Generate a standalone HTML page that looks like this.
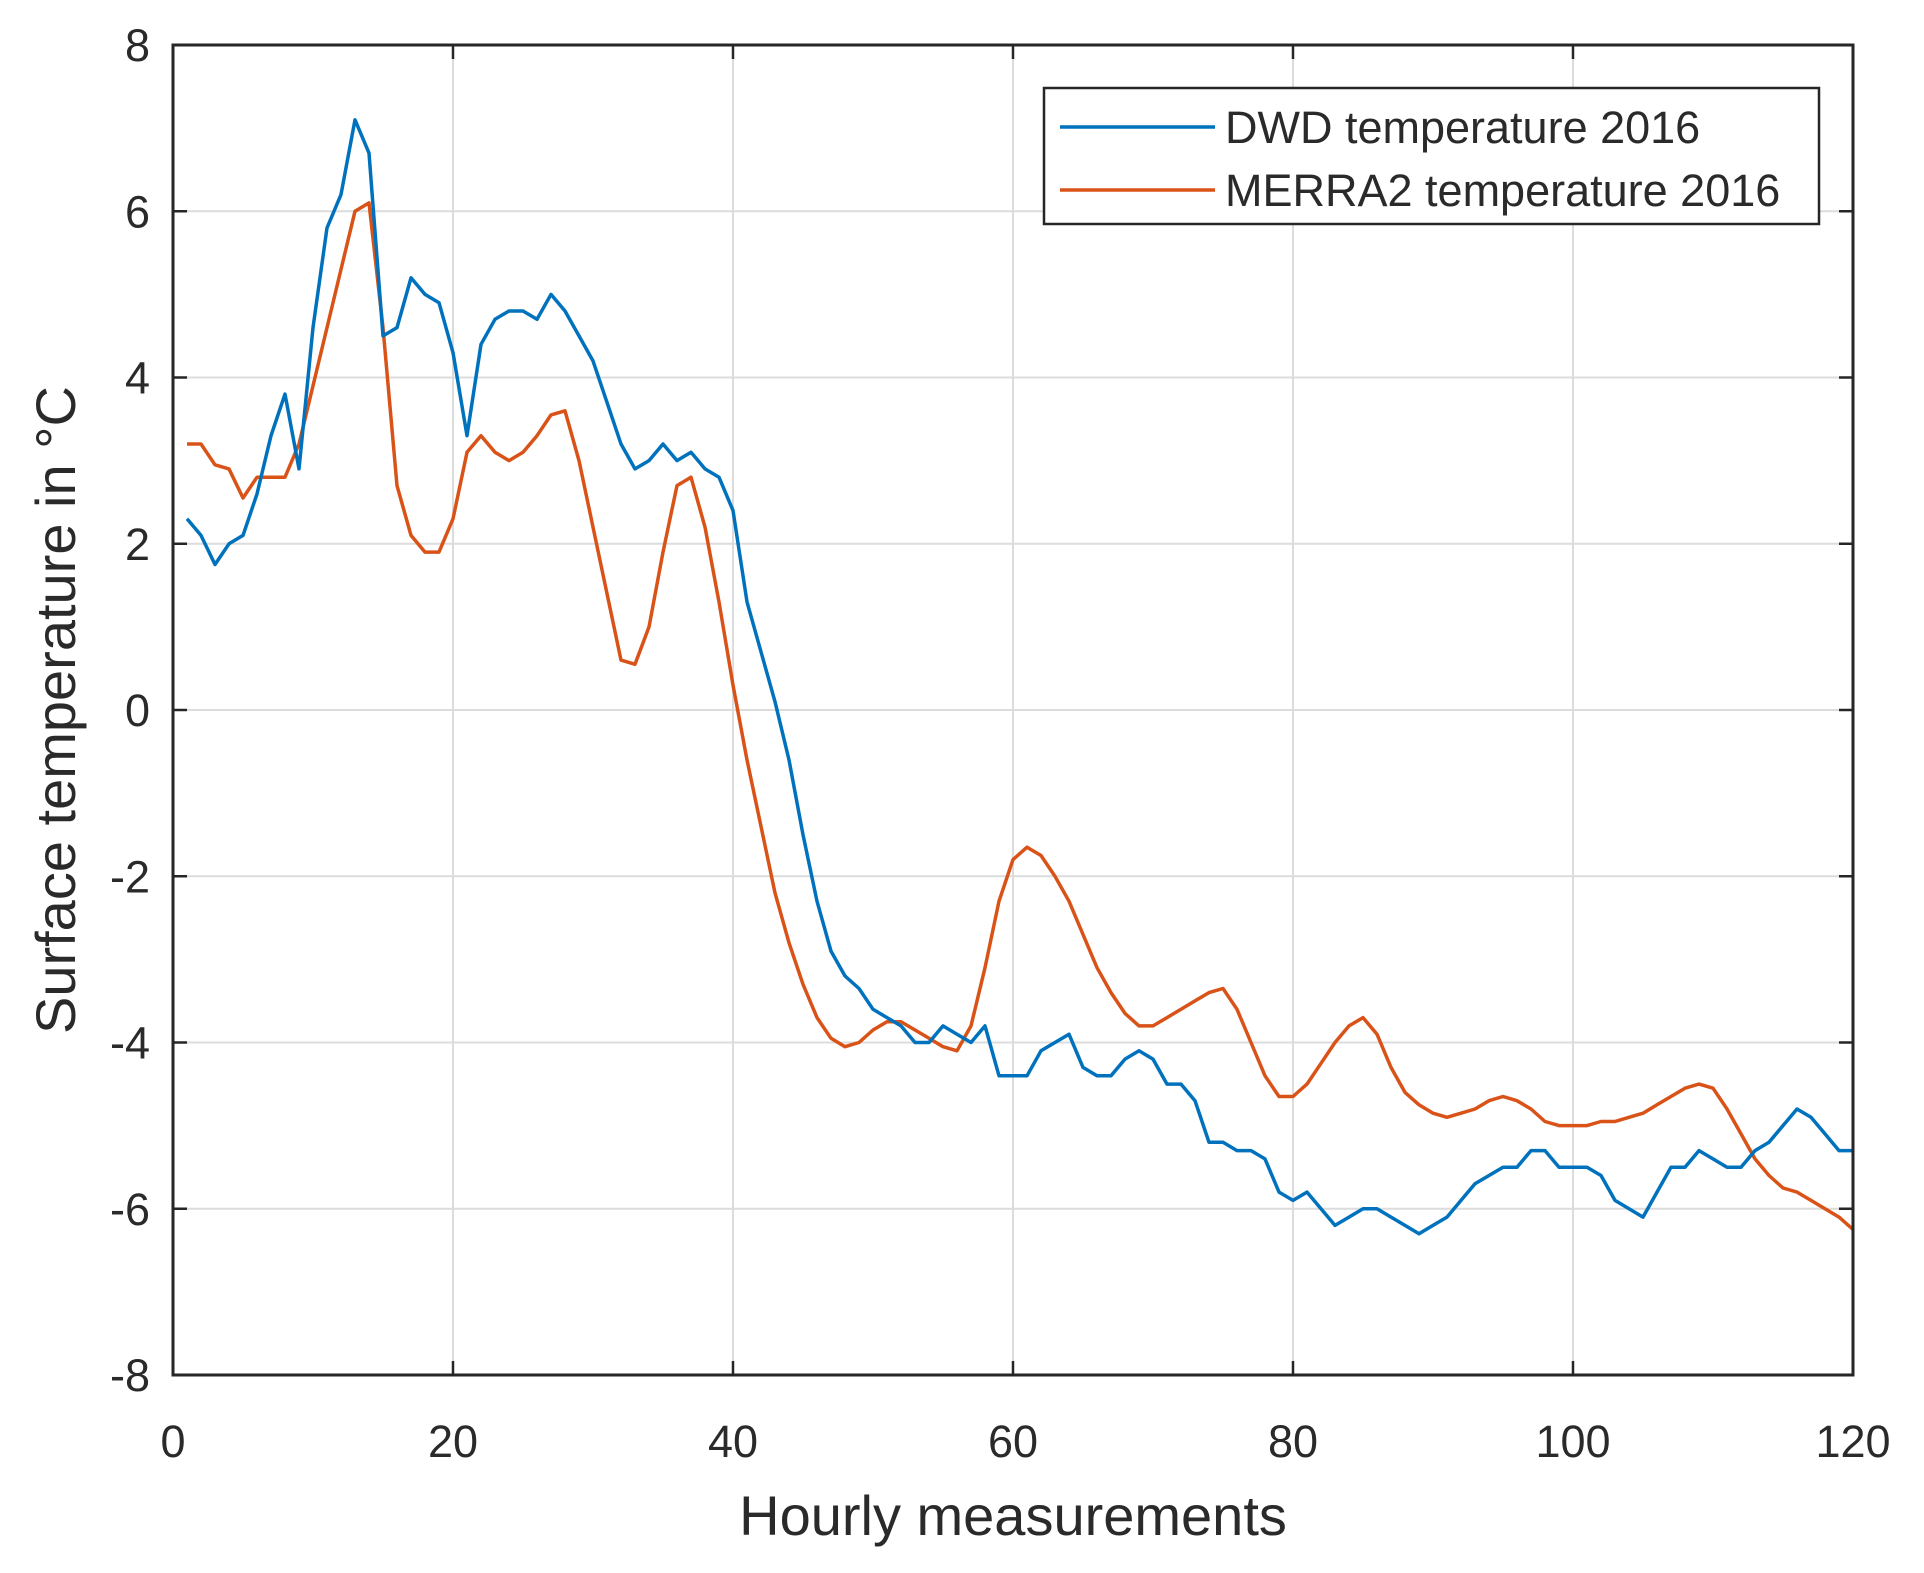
<!DOCTYPE html>
<html><head><meta charset="utf-8"><style>
html,body{margin:0;padding:0;background:#fff;}
svg text{font-family:"Liberation Sans",sans-serif;fill:#2a2a2a;}
</style></head><body>
<svg id="chart" width="1924" height="1568" viewBox="0 0 1924 1568" xmlns="http://www.w3.org/2000/svg">
<rect width="1924" height="1568" fill="#fff"/>
<g id="grid"></g><g id="series"></g><g id="axes"></g>
<g>
<rect x="1044" y="88" width="775" height="136" fill="#fff" stroke="#262626" stroke-width="2.5"/>
<line x1="1060" y1="127" x2="1215" y2="127" stroke="#0072BD" stroke-width="3.5"/>
<text x="1225" y="143" font-size="45">DWD temperature 2016</text>
<line x1="1060" y1="190" x2="1215" y2="190" stroke="#D95319" stroke-width="3.5"/>
<text x="1225" y="206" font-size="45">MERRA2 temperature 2016</text>
</g>
<text x="1013" y="1535" font-size="56" text-anchor="middle">Hourly measurements</text>
<text transform="translate(75,710) rotate(-90)" font-size="56" text-anchor="middle">Surface temperature in °C</text>
</svg>
<script>
const xTicks=[0,20,40,60,80,100,120];
const yTicks=[-8,-6,-4,-2,0,2,4,6,8];
const dwd=[2.3,2.1,1.75,2.0,2.1,2.6,3.3,3.8,2.9,4.6,5.8,6.2,7.1,6.7,4.5,4.6,5.2,5.0,4.9,4.3,3.3,4.4,4.7,4.8,4.8,4.7,5.0,4.8,4.5,4.2,3.7,3.2,2.9,3.0,3.2,3.0,3.1,2.9,2.8,2.4,1.3,0.7,0.1,-0.6,-1.5,-2.3,-2.9,-3.2,-3.35,-3.6,-3.7,-3.8,-4.0,-4.0,-3.8,-3.9,-4.0,-3.8,-4.4,-4.4,-4.4,-4.1,-4.0,-3.9,-4.3,-4.4,-4.4,-4.2,-4.1,-4.2,-4.5,-4.5,-4.7,-5.2,-5.2,-5.3,-5.3,-5.4,-5.8,-5.9,-5.8,-6.0,-6.2,-6.1,-6.0,-6.0,-6.1,-6.2,-6.3,-6.2,-6.1,-5.9,-5.7,-5.6,-5.5,-5.5,-5.3,-5.3,-5.5,-5.5,-5.5,-5.6,-5.9,-6.0,-6.1,-5.8,-5.5,-5.5,-5.3,-5.4,-5.5,-5.5,-5.3,-5.2,-5.0,-4.8,-4.9,-5.1,-5.3,-5.3];
const merra=[3.2,3.2,2.95,2.9,2.55,2.8,2.8,2.8,3.2,3.9,4.6,5.3,6.0,6.1,4.6,2.7,2.1,1.9,1.9,2.3,3.1,3.3,3.1,3.0,3.1,3.3,3.55,3.6,3.0,2.2,1.4,0.6,0.55,1.0,1.9,2.7,2.8,2.2,1.3,0.3,-0.6,-1.4,-2.2,-2.8,-3.3,-3.7,-3.95,-4.05,-4.0,-3.85,-3.75,-3.75,-3.85,-3.95,-4.05,-4.1,-3.8,-3.1,-2.3,-1.8,-1.65,-1.75,-2.0,-2.3,-2.7,-3.1,-3.4,-3.65,-3.8,-3.8,-3.7,-3.6,-3.5,-3.4,-3.35,-3.6,-4.0,-4.4,-4.65,-4.65,-4.5,-4.25,-4.0,-3.8,-3.7,-3.9,-4.3,-4.6,-4.75,-4.85,-4.9,-4.85,-4.8,-4.7,-4.65,-4.7,-4.8,-4.95,-5.0,-5.0,-5.0,-4.95,-4.95,-4.9,-4.85,-4.75,-4.65,-4.55,-4.5,-4.55,-4.8,-5.1,-5.4,-5.6,-5.75,-5.8,-5.9,-6.0,-6.1,-6.25];
const L=173,R=1853,T=45,B=1375;
const sx=v=>L+(v-0)/(120-0)*(R-L);
const sy=v=>B-(v+8)/16*(B-T);
const NS='http://www.w3.org/2000/svg';
function mk(tag,attrs,parent){const e=document.createElementNS(NS,tag);for(const k in attrs)e.setAttribute(k,attrs[k]);parent.appendChild(e);return e;}
const grid=document.getElementById('grid'),axes=document.getElementById('axes'),series=document.getElementById('series');
xTicks.forEach(t=>{
  const g=mk('line',{x1:sx(t),x2:sx(t),y1:T,y2:B,stroke:'#dcdcdc','stroke-width':2},grid);
  
  
  mk('line',{x1:sx(t),x2:sx(t),y1:B,y2:B-14,stroke:'#262626','stroke-width':2.5},axes);
  mk('line',{x1:sx(t),x2:sx(t),y1:T,y2:T+14,stroke:'#262626','stroke-width':2.5},axes);
  const tx=mk('text',{x:sx(t),y:1457,'font-size':45,'text-anchor':'middle'},axes);
  tx.textContent=t;
  
  
});
yTicks.forEach(t=>{
  const g=mk('line',{x1:L,x2:R,y1:sy(t),y2:sy(t),stroke:'#dcdcdc','stroke-width':2},grid);
  
  
  mk('line',{x1:L,x2:L+14,y1:sy(t),y2:sy(t),stroke:'#262626','stroke-width':2.5},axes);
  mk('line',{x1:R,x2:R-14,y1:sy(t),y2:sy(t),stroke:'#262626','stroke-width':2.5},axes);
  const tx=mk('text',{x:150,y:sy(t)+16,'font-size':45,'text-anchor':'end'},axes);
  tx.textContent=t;
  
  
});
const box=mk('rect',{x:L,y:T,width:R-L,height:B-T,fill:'none',stroke:'#262626','stroke-width':3},axes);


function line(data,color,name){
  const d=data.map((v,i)=>(i?'L':'M')+sx(i+1).toFixed(1)+','+sy(v).toFixed(1)).join('');
  const p=mk('path',{d:d,fill:'none',stroke:color,'stroke-width':3.5,'stroke-linejoin':'round'},series);
  
  
}
line(merra,'#D95319','merra2-line');
line(dwd,'#0072BD','dwd-line');
</script>
</body></html>
